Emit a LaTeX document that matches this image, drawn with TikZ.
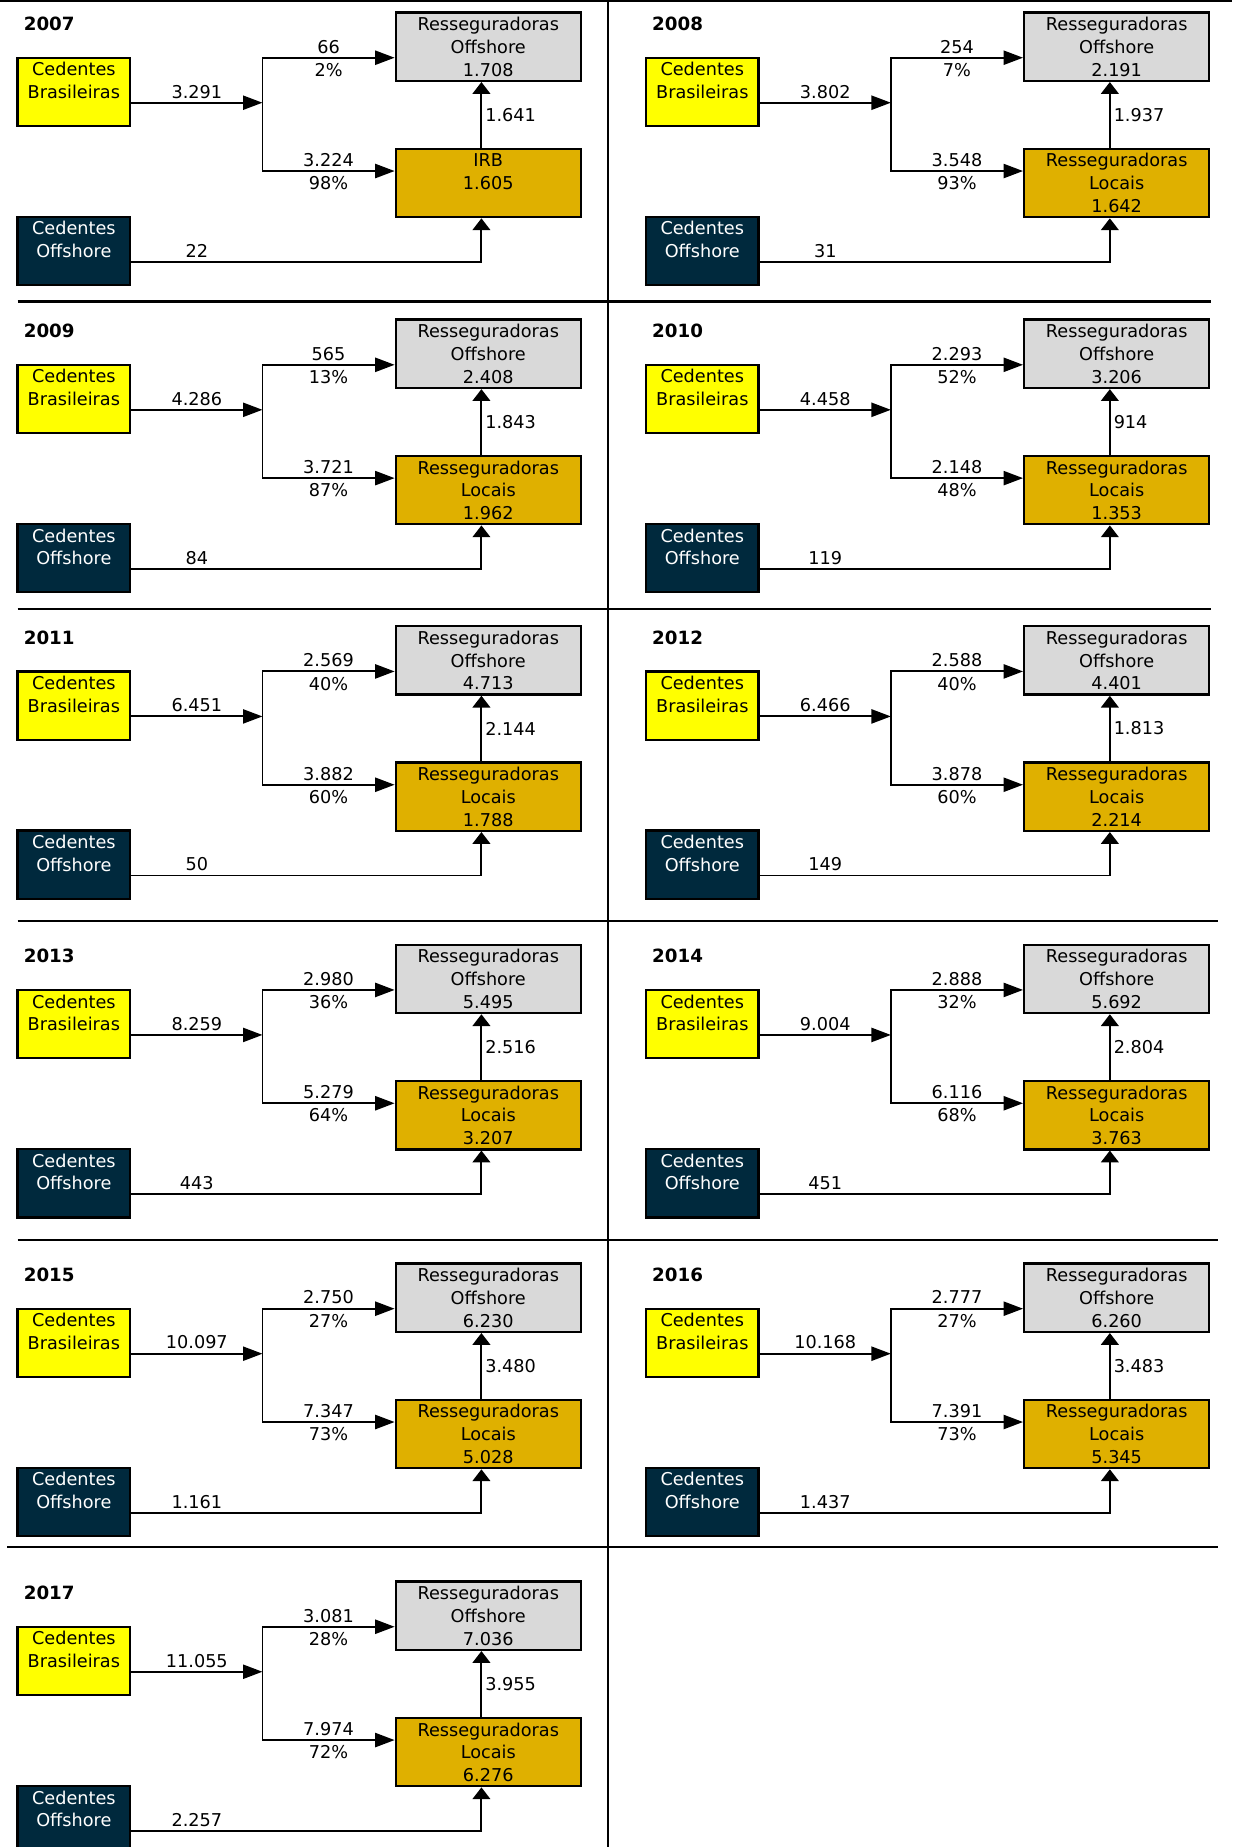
\documentclass[tikz,border=0pt]{standalone}
\usepackage{fontspec}
\setmainfont{DejaVu Sans}
\usetikzlibrary{arrows.meta,calc}
\definecolor{cbyellow}{RGB}{255,255,0}
\definecolor{rogray}{RGB}{217,217,217}
\definecolor{rlgold}{RGB}{223,176,0}
\definecolor{conavy}{RGB}{0,41,61}
\newcommand\bxl[1]{\strut\raisebox{-1.8pt}{#1}}
\begin{document}
\begin{tikzpicture}[x=1pt,y=-1pt,
  every node/.style={font=\fontsize{15}{19.25}\selectfont},
  box/.style={draw=black, line width=2pt, inner sep=0pt, align=center, minimum height=58pt},
  cbbox/.style={box, fill=cbyellow, minimum width=95.4pt},
  cobox/.style={box, fill=conavy, text=white, minimum width=95.4pt},
  robox/.style={box, fill=rogray, minimum width=157pt},
  rlbox/.style={box, fill=rlgold, minimum width=157pt},
  conn/.style={line width=1.6pt, line cap=rect},
  harr/.style={conn, -{Triangle[length=16.5pt,width=12pt]}},
  varr/.style={conn, -{Triangle[length=10pt,width=15pt]}},
  labA/.style={anchor=base, inner sep=0pt, yshift=4pt},
  labB/.style={anchor=base, inner sep=0pt, yshift=-15.9pt},
  labV/.style={anchor=west, inner sep=0pt, xshift=2.5pt},
  yearlab/.style={anchor=west, inner sep=0pt, font=\fontsize{15.5}{19.25}\selectfont\bfseries},
  sepline/.style={line width=1.8pt}
]
\useasboundingbox (0,0) rectangle (1046,1568);
\draw[sepline] (0,1) -- (1046,1);
\draw[sepline] (516,0) -- (516,1568);
\draw[sepline] (15,256) -- (1028,256);
\draw[sepline] (15,517) -- (1028,517);
\draw[sepline] (15,781.5) -- (1034.4,781.5);
\draw[sepline] (15,1053) -- (1034.4,1053);
\draw[sepline] (6.2,1313) -- (1034.4,1313);
\foreach \ox/\oy/\yr/\m/\tv/\tp/\bv/\bp/\ro/\la/\lb/\lc/\vv/\co in {
0/0/2007/3.291/66/2\%/3.224/98\%/1.708/IRB/1.605/{}/1.641/22,
533.5/0/2008/3.802/254/7\%/3.548/93\%/2.191/Resseguradoras/Locais/1.642/1.937/31,
0/260.7/2009/4.286/565/13\%/3.721/87\%/2.408/Resseguradoras/Locais/1.962/1.843/84,
533.5/260.7/2010/4.458/2.293/52\%/2.148/48\%/3.206/Resseguradoras/Locais/1.353/914/119,
0/521/2011/6.451/2.569/40\%/3.882/60\%/4.713/Resseguradoras/Locais/1.788/2.144/50,
533.5/521/2012/6.466/2.588/40\%/3.878/60\%/4.401/Resseguradoras/Locais/2.214/1.813/149,
0/791.4/2013/8.259/2.980/36\%/5.279/64\%/5.495/Resseguradoras/Locais/3.207/2.516/443,
533.5/791.4/2014/9.004/2.888/32\%/6.116/68\%/5.692/Resseguradoras/Locais/3.763/2.804/451,
0/1062/2015/10.097/2.750/27\%/7.347/73\%/6.230/Resseguradoras/Locais/5.028/3.480/1.161,
533.5/1062/2016/10.168/2.777/27\%/7.391/73\%/6.260/Resseguradoras/Locais/5.345/3.483/1.437,
0/1332/2017/11.055/3.081/28\%/7.974/72\%/7.036/Resseguradoras/Locais/6.276/3.955/2.257}{
\begin{scope}[shift={(\ox,\oy)}]
  \node[yearlab] (yr\yr) at (20,20.4) {\yr};
  \node[cbbox] (cb\yr) at (62.7,78) {\bxl{Cedentes}\\\bxl{Brasileiras}\\\strut};
  \node[cobox] (co\yr) at (62.7,213.1) {\bxl{Cedentes}\\\bxl{Offshore}\\\strut};
  \node[robox] (ro\yr) at (414.5,39.65) {\bxl{Resseguradoras}\\\bxl{Offshore}\\\bxl{\ro}};
  \node[rlbox] (rl\yr) at (414.5,155.35) {\bxl{\la}\\\bxl{\lb}\\\bxl{\lc}};
  \coordinate (sp\yr) at (222.8,87.2);
  \coordinate (tb\yr) at (222.8,49);
  \coordinate (bb\yr) at (222.8,145.2);
  \coordinate (vx\yr) at (408.7,222.2);
  \draw[harr] ([yshift=-9.2pt]cb\yr.east) -- node[labA]{\m} (sp\yr);
  \draw[conn] (tb\yr) -- (bb\yr);
  \draw[harr] (tb\yr) -- node[labA]{\tv} node[labB]{\tp} (tb\yr -| ro\yr.west);
  \draw[harr] (bb\yr) -- node[labA]{\bv} node[labB]{\bp} (bb\yr -| rl\yr.west);
  \draw[varr] (vx\yr |- rl\yr.north) -- node[labV]{\vv} (vx\yr |- ro\yr.south);
  \draw[varr] (co\yr.east |- vx\yr) -- (vx\yr) -- (vx\yr |- rl\yr.south);
  \path (co\yr.east |- vx\yr) -- node[labA]{\co} (sp\yr |- vx\yr);
\end{scope}}
\end{tikzpicture}
\end{document}
